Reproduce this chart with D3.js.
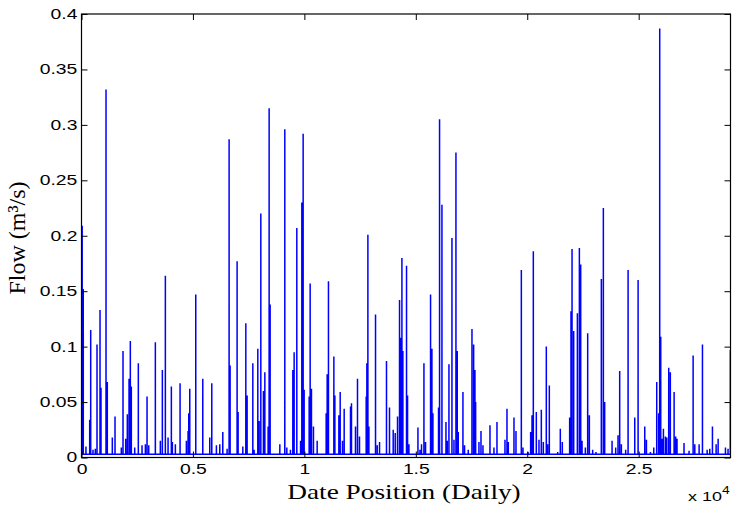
<!DOCTYPE html>
<html>
<head>
<meta charset="utf-8">
<script src="https://cdn.jsdelivr.net/npm/d3@7"></script>
<style>
  body { margin: 0; background: #fff; }
</style>
</head>
<body>
<div id="chart"></div>
<script>
'use strict';

// flow events: day index and peak flow (m3/s)
var peakDay = [
    30,    80,   200,   368,   413,   516,   620,   696,   831,   875
  , 1100,  1158,  1383,  1504,  1787,  1863,  1984,  2056,  2133,  2191
  , 2236,  2388,  2550,  2716,  2866,  2941,  3017,  3314,  3538,  3628
  , 3763,  3884,  4032,  4077,  4212,  4423,  4706,  4782,  4813,  4858
  , 5127,  5442,  5756,  5846,  6053,  6205,  6340,  6533,  6623,  6668
  , 6982,  7027,  7238,  7373,  7431,  7687,  7745,  7911,  7970,  8046
  , 8163,  8226,  8374,  8419,  8464,  8899,  9122,  9213,  9375,  9482
  , 9541,  9661,  9830,  9886,  9945,  9990, 10215, 10260, 10318, 10408
  , 10574, 10978, 11023, 11081, 11323, 11368, 11548, 11607, 11710, 11786
  , 12070, 12114, 12294, 12384, 12474, 12774, 12804, 12850, 12895, 13193
  , 13268, 13373, 13685, 13820, 13986, 14076, 14180, 14270, 14315, 14377
  , 14420, 14584, 14630, 14691, 15096, 15186, 15257, 15365, 15437, 15662
  , 15723, 15768, 16020, 16066, 16173, 16353, 16411, 16487, 16622, 16712
  , 16801, 16860, 16905, 17115, 17188, 17354, 17520, 17595, 17654, 17685
  , 17833, 17925, 18013, 18328, 18507, 18642, 19001, 19091, 19150, 19405
  , 19495, 19735, 19809, 20034, 20153, 20215, 20273, 20407, 20527, 20632
  , 20722, 20856, 20916, 20991, 21365, 21484, 21574, 21903, 21963, 22010
  , 22084, 22250, 22339, 22399, 22459, 22608, 22712, 22787, 22936, 23085
  , 23325, 23415, 23475, 23806, 23969, 24073, 24148, 24223, 24417, 24525
  , 24824, 24974, 25273, 25348, 25528, 25678, 25810, 25898, 25944, 25990
  , 26050, 26110, 26200, 26260, 26348, 26420, 26590, 26660, 26720, 27035
  , 27260, 27443, 27518, 27712, 27862, 28072, 28190, 28310, 28475, 28565
  , 28894, 29010, 29112
];

var peakFlow = [
    0.209, 0.152, 0.010, 0.034, 0.115, 0.007, 0.008, 0.102, 0.133, 0.063
  , 0.332, 0.068, 0.018, 0.037, 0.009, 0.096, 0.017, 0.039, 0.071, 0.105
  , 0.064, 0.009, 0.085, 0.011, 0.012, 0.055, 0.011, 0.104, 0.015, 0.079
  , 0.164, 0.018, 0.064, 0.014, 0.012, 0.067, 0.015, 0.024, 0.040, 0.062
  , 0.147, 0.071, 0.018, 0.067, 0.011, 0.012, 0.023, 0.008, 0.287, 0.083
  , 0.177, 0.041, 0.010, 0.121, 0.056, 0.085, 0.007, 0.098, 0.033, 0.220
  , 0.060, 0.077, 0.028, 0.315, 0.138, 0.012, 0.296, 0.009, 0.007, 0.079
  , 0.095, 0.207, 0.015, 0.230, 0.292, 0.061, 0.055, 0.157, 0.062, 0.028
  , 0.015, 0.040, 0.075, 0.159, 0.091, 0.056, 0.038, 0.059, 0.015, 0.044
  , 0.046, 0.049, 0.028, 0.071, 0.019, 0.055, 0.085, 0.201, 0.028, 0.129
  , 0.011, 0.014, 0.087, 0.045, 0.025, 0.022, 0.037, 0.142, 0.108, 0.180
  , 0.096, 0.173, 0.056, 0.012, 0.027, 0.007, 0.012, 0.085, 0.014, 0.147
  , 0.098, 0.040, 0.045, 0.305, 0.228, 0.032, 0.015, 0.084, 0.198, 0.016
  , 0.275, 0.096, 0.023, 0.059, 0.011, 0.007, 0.116, 0.102, 0.079, 0.050
  , 0.014, 0.024, 0.011, 0.029, 0.009, 0.032, 0.016, 0.044, 0.014, 0.036
  , 0.024, 0.169, 0.009, 0.005, 0.023, 0.038, 0.186, 0.041, 0.016, 0.043
  , 0.014, 0.100, 0.012, 0.065, 0.005, 0.026, 0.014, 0.036, 0.132, 0.188
  , 0.114, 0.130, 0.189, 0.174, 0.015, 0.009, 0.112, 0.038, 0.007, 0.005
  , 0.161, 0.225, 0.050, 0.015, 0.009, 0.020, 0.078, 0.012, 0.007, 0.169
  , 0.036, 0.160, 0.028, 0.016, 0.005, 0.009, 0.068, 0.040, 0.387, 0.109
  , 0.017, 0.026, 0.019, 0.018, 0.081, 0.077, 0.059, 0.019, 0.017, 0.013
  , 0.006, 0.092, 0.012, 0.012, 0.102, 0.007, 0.008, 0.028, 0.012, 0.017
  , 0.009, 0.008, 0.097
];

var xTicks      = [0, 5000, 10000, 15000, 20000, 25000];
var xTickLabels = ['0', '0.5', '1', '1.5', '2', '2.5'];
var yTicks      = [0, 0.05, 0.1, 0.15, 0.2, 0.25, 0.3, 0.35, 0.4];
var yTickLabels = ['0', '0.05', '0.1', '0.15', '0.2', '0.25', '0.3', '0.35', '0.4'];

var nDays    = 29120;
var baseFlow = 0.003;

var width  = 733
  , height = 509
  , box    = { left: 81.5, right: 730.5, top: 14, bottom: 457.5 }
  , stretch = 1.38;   // picture is wider than tall, text too

var svg = d3.select('#chart')
  .append('svg')
  .attr('width', width)
  .attr('height', height)
  .style('font-family', '"Liberation Sans", Arial, sans-serif');

svg.append('rect')
  .attr('width', width)
  .attr('height', height)
  .attr('fill', '#fff');

var x = d3.scaleLinear().domain([0, nDays]).range([box.left, box.right]);
var y = d3.scaleLinear().domain([0, 0.4]).range([box.bottom, box.top]);

// series: flat base flow with a one-day event at each peak
var events = peakDay.map(function (d, i) { return [d, peakFlow[i]]; })
  .sort(function (a, b) { return a[0] - b[0]; });

var series = [[0, baseFlow]];
events.forEach(function (e) {
  series.push([e[0] - 1, baseFlow], [e[0], e[1]], [e[0] + 1, baseFlow]);
});
series.push([nDays, baseFlow]);

var line = d3.line()
  .x(function (d) { return x(d[0]); })
  .y(function (d) { return y(d[1]); });

svg.append('defs').append('clipPath').attr('id', 'clip')
  .append('rect')
  .attr('x', box.left).attr('y', box.top)
  .attr('width', box.right - box.left).attr('height', box.bottom - box.top);

svg.append('path')
  .datum(series)
  .attr('clip-path', 'url(#clip)')
  .attr('d', line)
  .attr('fill', 'none')
  .attr('stroke', '#0000ff')
  .attr('stroke-width', 1.5);

// axes, ticks pointing inwards on all four sides
function styleAxis(g) {
  g.select('.domain').remove();
  g.selectAll('line').attr('stroke', '#000');
  g.selectAll('text').attr('fill', '#000').style('font-size', '14px');
}

svg.append('g')
  .attr('transform', 'translate(0,' + box.bottom + ')')
  .call(d3.axisBottom(x).tickValues(xTicks).tickSize(-6).tickPadding(7)
    .tickFormat(function (d, i) { return xTickLabels[i]; }))
  .call(styleAxis)
  .selectAll('text').attr('transform', 'scale(' + stretch + ',1)');

svg.append('g')
  .attr('transform', 'translate(0,' + box.top + ')')
  .call(d3.axisTop(x).tickValues(xTicks).tickSize(-6).tickFormat(''))
  .call(styleAxis);

svg.append('g')
  .attr('transform', 'translate(' + box.left + ',0)')
  .call(d3.axisLeft(y).tickValues(yTicks).tickSize(-6).tickPadding(3)
    .tickFormat(function (d, i) { return yTickLabels[i]; }))
  .call(styleAxis)
  .selectAll('text').attr('transform', 'scale(' + stretch + ',1)');

svg.append('g')
  .attr('transform', 'translate(' + box.right + ',0)')
  .call(d3.axisRight(y).tickValues(yTicks).tickSize(-6).tickFormat(''))
  .call(styleAxis);

svg.append('rect')
  .attr('x', box.left).attr('y', box.top)
  .attr('width', box.right - box.left).attr('height', box.bottom - box.top)
  .attr('fill', 'none')
  .attr('stroke', '#000')
  .attr('stroke-width', 1.2);

// exponent label
var expo = svg.append('text')
  .attr('transform', 'translate(688,501) scale(' + stretch + ',1)')
  .style('font-size', '13px');
expo.append('tspan').text('x 10');
expo.append('tspan').attr('dy', -7).style('font-size', '10px').text('4');

// axis titles
svg.append('text')
  .attr('transform', 'translate(404,499) scale(1.3,1)')
  .attr('text-anchor', 'middle')
  .style('font-family', '"Liberation Serif", "Times New Roman", serif')
  .style('font-size', '21px')
  .text('Date Position (Daily)');

svg.append('text')
  .attr('transform', 'translate(25,238) rotate(-90)')
  .attr('text-anchor', 'middle')
  .style('font-family', '"Liberation Serif", "Times New Roman", serif')
  .style('font-size', '24px')
  .text('Flow (m³/s)');
</script>
</body>
</html>
